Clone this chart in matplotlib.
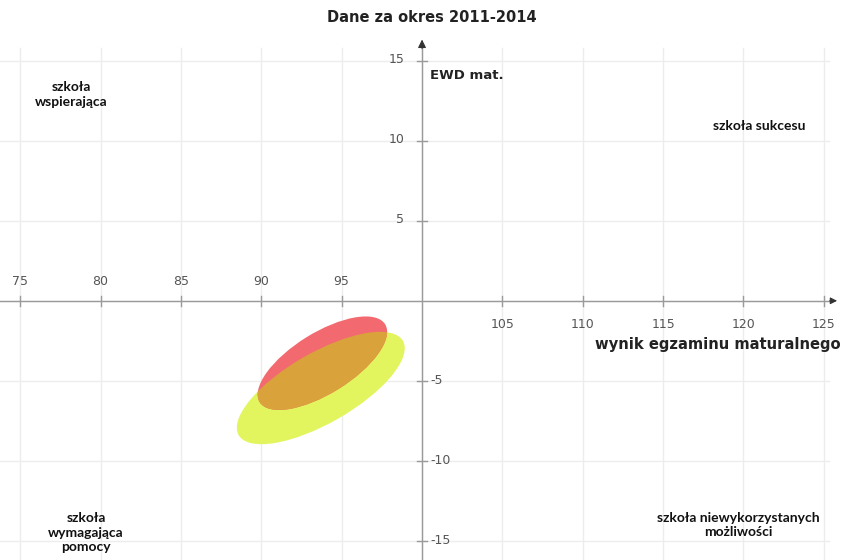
import matplotlib
matplotlib.use('Agg')
import numpy as np
import matplotlib.pyplot as plt
from matplotlib.patches import Ellipse

#-- data
x_ticks = [75, 80, 85, 90, 95, 105, 110, 115, 120, 125]
y_ticks = [15, 10, 5, -5, -10, -15]

# ellipses: centre (x, y), width, height (data units), angle (deg)
red_centre = (93.8, -3.9)
red_size = (9.2, 3.8)
red_angle = 32.0
yel_centre = (93.7, -5.45)
yel_size = (11.8, 4.4)
yel_angle = 30.0

quad_labels = ['szkoła\nwspierająca', 'szkoła sukcesu',
               'szkoła\nwymagająca\npomocy', 'szkoła niewykorzystanych\nmożliwości']
quad_xy = [(78.2, 12.9), (121.0, 10.9), (79.1, -14.5), (119.7, -14.0)]

title = 'Dane za okres 2011-2014'
xlabel = 'wynik egzaminu maturalnego'
ylabel = 'EWD mat.'

#============================================================================
fig = plt.figure(figsize=(8.41, 5.60), dpi=100)
ax = fig.add_axes([0, 0, 1, 1])
ax.set_xlim(73.74, 126.07)
ax.set_ylim(-16.2, 18.8)
ax.axis('off')

# grid
gcol = '#ededed'
for xv in range(75, 126, 5):
    ax.plot([xv, xv], [-16.2, 15.8], color=gcol, lw=1.0, zorder=0)
for yv in range(-15, 16, 5):
    ax.plot([73.74, 125.3], [yv, yv], color=gcol, lw=1.0, zorder=0)

# ellipses
yel = Ellipse(yel_centre, yel_size[0], yel_size[1], angle=yel_angle,
              facecolor='#e3f55e', edgecolor='none', zorder=2)
ax.add_patch(yel)
red = Ellipse(red_centre, red_size[0], red_size[1], angle=red_angle,
              facecolor='#f26a70', edgecolor='none', zorder=3)
ax.add_patch(red)
ovl = Ellipse(red_centre, red_size[0], red_size[1], angle=red_angle,
              facecolor='#daa23a', edgecolor='none', zorder=4)
ax.add_patch(ovl)
ovl.set_clip_path(yel)

# axes with arrows
acol = '#9a9a9a'
ax.plot([73.74, 125.5], [0, 0], color=acol, lw=1.0, zorder=5)
ax.plot([100, 100], [-16.2, 16.0], color=acol, lw=1.0, zorder=5)
ax.annotate('', xy=(126.0, 0), xytext=(125.2, 0),
            arrowprops=dict(arrowstyle='-|>', color='#333333', lw=0.8, mutation_scale=10), zorder=6)
ax.annotate('', xy=(100, 16.5), xytext=(100, 15.6),
            arrowprops=dict(arrowstyle='-|>', color='#333333', lw=0.8, mutation_scale=12), zorder=6)

# ticks and tick labels
tcol = '#555555'
for xv in x_ticks:
    ax.plot([xv, xv], [-0.3, 0.3], color=acol, lw=1.0, zorder=5)
    if xv < 100:
        ax.text(xv, 1.2, str(xv), ha='center', va='center', fontsize=9, color=tcol)
    else:
        ax.text(xv, -1.5, str(xv), ha='center', va='center', fontsize=9, color=tcol)
for yv in y_ticks:
    ax.plot([99.7, 100.3], [yv, yv], color=acol, lw=1.0, zorder=5)
    if yv > 0:
        ax.text(98.9, yv + 0.1, str(yv), ha='right', va='center', fontsize=9, color=tcol)
    else:
        ax.text(100.5, yv, str(yv), ha='left', va='center', fontsize=9, color=tcol)

# axis labels and title
ax.text(100.5, 14.1, ylabel, ha='left', va='center', fontsize=9.5,
        fontweight='bold', color='#222222')
ax.text(126.05, -2.75, xlabel, ha='right', va='center', fontsize=10.6,
        fontweight='bold', color='#222222')
ax.text(100.6, 17.7, title, ha='center', va='center', fontsize=10.5,
        fontweight='bold', color='#222222')

# quadrant labels
for lab, (qx, qy) in zip(quad_labels, quad_xy):
    ax.text(qx, qy, lab, ha='center', va='center', fontsize=10,
            fontweight='bold', family='Lato', color='#111111', linespacing=1.25)

fig.savefig('out.png', dpi=100)
